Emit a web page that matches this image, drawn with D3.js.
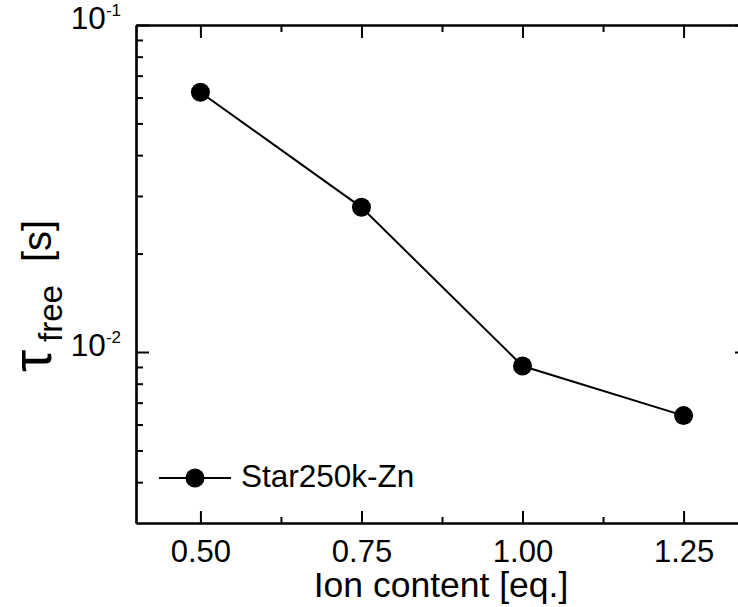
<!DOCTYPE html>
<html>
<head>
<meta charset="utf-8">
<script src="https://cdn.jsdelivr.net/npm/d3@7"></script>
<style>
  body { margin: 0; background: #fff; }
  svg { font-family: Arial, "Liberation Sans", sans-serif; }
</style>
</head>
<body>
<div id="chart"></div>
<script>
// data
var ionContent = [0.50, 0.75, 1.00, 1.25];
var tauFree = [0.0623, 0.0277, 0.00906, 0.00639];
var seriesName = "Star250k-Zn";

// ticks
var xMajorTicks = [0.50, 0.75, 1.00, 1.25];
var xMinorTicks = [0.625, 0.875, 1.125];
var yMajorTicks = [0.01, 0.1];
var yMajorExp = ["-2", "-1"];
var yMinorTicks = [0.004, 0.005, 0.006, 0.007, 0.008, 0.009,
                   0.02, 0.03, 0.04, 0.05, 0.06, 0.07, 0.08, 0.09];

var width = 738, height = 607;
var plotLeft = 136, plotTop = 25, plotRight = 748, plotBottom = 523;

var svg = d3.select("#chart").append("svg")
    .attr("width", width)
    .attr("height", height);

var x = d3.scaleLinear().domain([0.4, 1.35]).range([plotLeft, plotRight]);
var y = d3.scaleLog().domain([0.003, 0.1]).range([plotBottom, plotTop]);

// axes, ticks pointing inward
function styleAxis(g) {
    g.selectAll("path.domain").attr("stroke", "#000").attr("stroke-width", 2.2);
    g.selectAll(".tick line").attr("stroke", "#000").attr("stroke-width", 2);
}

// bottom
svg.append("g").attr("transform", "translate(0," + plotBottom + ")")
    .call(d3.axisBottom(x).tickValues(xMajorTicks).tickSizeInner(-12).tickSizeOuter(0)
        .tickPadding(17).tickFormat(d3.format(".2f")))
    .call(styleAxis)
    .call(function(g) {
        g.selectAll("text").attr("font-size", 31).attr("fill", "#000")
            .attr("font-family", "Arial, 'Liberation Sans', sans-serif")
            .attr("dy", "0.71em");
    });
svg.append("g").attr("transform", "translate(0," + plotBottom + ")")
    .call(d3.axisBottom(x).tickValues(xMinorTicks).tickSizeInner(-6).tickSizeOuter(0).tickFormat(""))
    .call(styleAxis);

// top
svg.append("g").attr("transform", "translate(0," + plotTop + ")")
    .call(d3.axisTop(x).tickValues(xMajorTicks).tickSizeInner(-13).tickSizeOuter(0).tickFormat(""))
    .call(styleAxis);
svg.append("g").attr("transform", "translate(0," + plotTop + ")")
    .call(d3.axisTop(x).tickValues(xMinorTicks).tickSizeInner(-7).tickSizeOuter(0).tickFormat(""))
    .call(styleAxis);

// left
var leftAxis = svg.append("g").attr("transform", "translate(" + plotLeft + ",0)")
    .call(d3.axisLeft(y).tickValues(yMajorTicks).tickSizeInner(-13).tickSizeOuter(0)
        .tickPadding(15).tickFormat(""))
    .call(styleAxis);
leftAxis.selectAll(".tick text").each(function(d, i) {
    var t = d3.select(this)
        .attr("font-family", "Arial, 'Liberation Sans', sans-serif")
        .attr("fill", "#000")
        .attr("dy", "0.36em");
    t.append("tspan").attr("font-size", 31.5).text("10");
    t.append("tspan").attr("font-size", 17).attr("dy", -13).text(yMajorExp[i]);
});
svg.append("g").attr("transform", "translate(" + plotLeft + ",0)")
    .call(d3.axisLeft(y).tickValues(yMinorTicks).tickSizeInner(-7).tickSizeOuter(0).tickFormat(""))
    .call(styleAxis);

// right
svg.append("g").attr("transform", "translate(" + plotRight + ",0)")
    .call(d3.axisRight(y).tickValues(yMajorTicks).tickSizeInner(-13).tickSizeOuter(0).tickFormat(""))
    .call(styleAxis);
svg.append("g").attr("transform", "translate(" + plotRight + ",0)")
    .call(d3.axisRight(y).tickValues(yMinorTicks).tickSizeInner(-7).tickSizeOuter(0).tickFormat(""))
    .call(styleAxis);

// axis titles
svg.append("text")
    .attr("x", 441).attr("y", 597)
    .attr("text-anchor", "middle")
    .attr("font-size", 35.5)
    .text("Ion content [eq.]");

var yTitle = svg.append("text")
    .attr("transform", "translate(51,372) rotate(-90)")
    .attr("fill", "#000");
yTitle.append("tspan").attr("x", 0).attr("font-size", 56).text("τ");
yTitle.append("tspan").attr("x", 30).attr("dy", 11).attr("font-size", 33).text("free");
yTitle.append("tspan").attr("x", 110).attr("dy", -11).attr("font-size", 40).text("[s]");

// series
var points = ionContent.map(function(v, i) { return [v, tauFree[i]]; });

svg.append("path")
    .datum(points)
    .attr("fill", "none")
    .attr("stroke", "#000")
    .attr("stroke-width", 2)
    .attr("d", d3.line().x(function(d) { return x(d[0]); }).y(function(d) { return y(d[1]); }));

svg.selectAll("circle.pt")
    .data(points)
    .enter()
    .append("circle")
    .attr("class", "pt")
    .attr("cx", function(d) { return x(d[0]); })
    .attr("cy", function(d) { return y(d[1]); })
    .attr("r", 9.5)
    .attr("fill", "#000");

// legend
var legend = svg.append("g");
legend.append("line")
    .attr("x1", 159).attr("x2", 231).attr("y1", 478).attr("y2", 478)
    .attr("stroke", "#000").attr("stroke-width", 2);
legend.append("circle")
    .attr("cx", 195).attr("cy", 478).attr("r", 9.5).attr("fill", "#000");
legend.append("text")
    .attr("x", 241).attr("y", 487)
    .attr("font-size", 31.5)
    .text(seriesName);
</script>
</body>
</html>
